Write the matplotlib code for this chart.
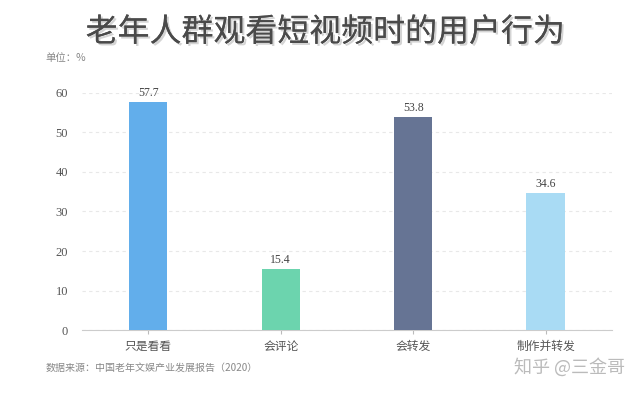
import matplotlib
matplotlib.use("Agg")
import matplotlib.pyplot as plt
import matplotlib.patheffects as pe

plt.rcParams['font.family'] = ['Noto Sans CJK SC', 'DejaVu Sans']

categories = ["只是看看", "会评论", "会转发", "制作并转发"]
values = [57.7, 15.4, 53.8, 34.6]
colors = ["#62AEEB", "#6CD4AE", "#667494", "#A9DBF4"]
yticks = [0, 10, 20, 30, 40, 50, 60]

fig = plt.figure(figsize=(6.36, 3.94), dpi=100)
fig.patch.set_facecolor("white")
ax = fig.add_axes([0.129, 0.1624, 0.833, 0.6016])

x = list(range(len(categories)))
bars = ax.bar(x, values, width=0.29, color=colors, zorder=3)
for xi, v in zip(x, values):
    ax.text(xi, v + 0.8, f"{v}", ha="center", va="bottom", fontsize=8.5,
            color="#444444", family=["Liberation Serif"])

ax.set_xlim(-0.5, 3.5)
ax.set_ylim(0, 60)
ax.set_yticks(yticks)
ax.set_yticklabels([str(t) for t in yticks], family=["Liberation Serif"], fontsize=9, color="#555555")
ax.set_xticks(x)
ax.set_xticklabels(categories, fontsize=8.5, color="#555555")
ax.tick_params(axis="y", length=0, pad=10)
ax.tick_params(axis="x", length=3, color="#bbbbbb", pad=4)
ax.grid(axis="y", linestyle=(0, (3, 3)), color="#e8e8e8", linewidth=0.8, zorder=0)
for s in ["top", "right", "left"]:
    ax.spines[s].set_visible(False)
ax.spines["bottom"].set_color("#cccccc")

fig.text(0.512, 0.918, "老年人群观看短视频时的用户行为", ha="center", va="center",
         fontsize=23, color="#4a4a4a", fontweight="medium",
         path_effects=[pe.withSimplePatchShadow(offset=(1.5, -1.5), shadow_rgbFace="#aaaaaa", alpha=0.5), pe.Normal()])
fig.text(0.072, 0.853, "单位：%", ha="left", va="center", fontsize=7.5, color="#888888")
fig.text(0.072, 0.067, "数据来源：中国老年文娱产业发展报告（2020）", ha="left", va="center",
         fontsize=7.2, color="#888888")
fig.text(0.983, 0.067, "知乎 @三金哥", ha="right", va="center", fontsize=13, color="#bbbbbb")

fig.savefig("out.png", dpi=100, facecolor="white")
